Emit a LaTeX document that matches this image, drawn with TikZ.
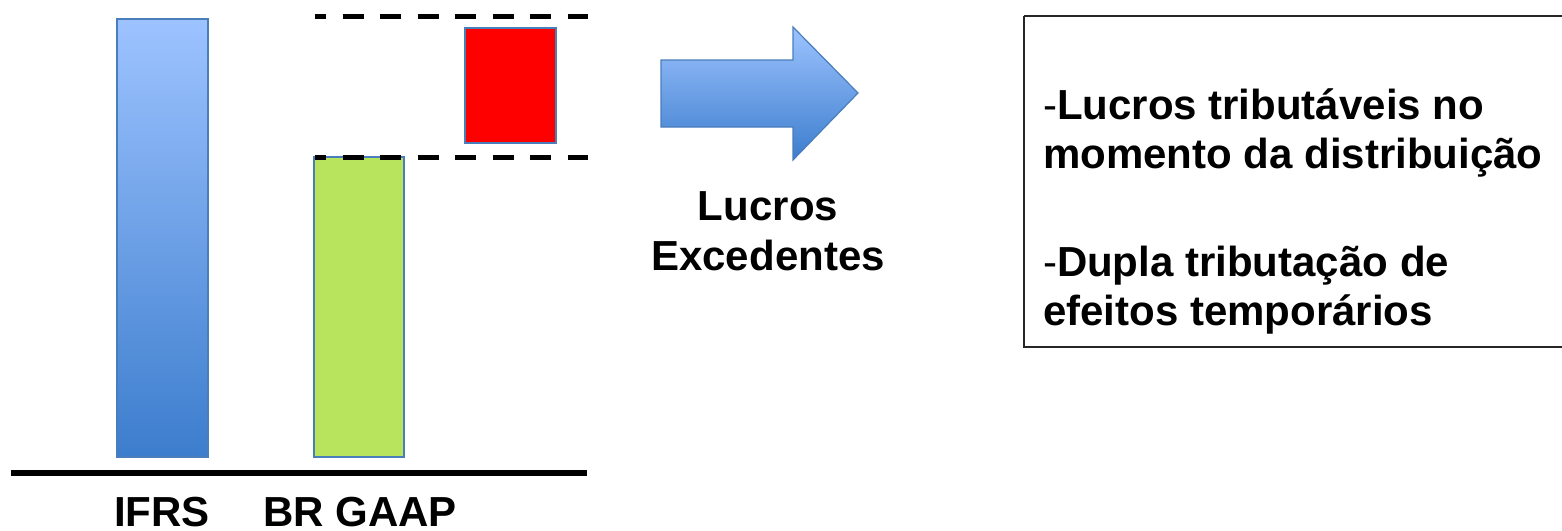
\documentclass[tikz,border=0pt]{standalone}
\usepackage{fontspec}
\setmainfont{Liberation Sans}
\definecolor{bluetop}{RGB}{157,195,255}
\definecolor{bluebot}{RGB}{60,125,205}
\definecolor{barborder}{RGB}{74,126,187}
\definecolor{greenfill}{RGB}{184,227,92}
\begin{document}
\begin{tikzpicture}[x=1pt,y=-1pt,
  bar/.style={draw=barborder, line width=2pt, inner sep=0pt, outer sep=0pt, anchor=north west},
  bluebar/.style={bar, top color=bluetop, bottom color=bluebot},
  dashline/.style={line width=5pt, dash pattern=on 21pt off 16.5pt, dash phase=10pt},
  lbl/.style={font=\fontsize{42}{48.5}\selectfont\bfseries, inner sep=0pt, outer sep=0pt}]
\useasboundingbox (0,0) rectangle (1562,530);
% bars
\node[bluebar, minimum width=91pt, minimum height=438pt] (ifrs) at (117,19) {};
\node[bar, fill=greenfill, minimum width=90pt, minimum height=300pt] (brgaap) at (314,157) {};
\node[bar, fill=red, minimum width=91pt, minimum height=115pt] (excess) at (465,28) {};
% dashed guides
\coordinate (d1a) at (315,16); \coordinate (d1b) at (588,16);
\coordinate (d2a) at (315,157); \coordinate (d2b) at (588,157);
\draw[dashline] (d1a) -- (d1b);
\draw[dashline] (d2a) -- (d2b);
% baseline
\coordinate (ba) at (11,473); \coordinate (bb) at (587,473);
\draw[line width=5.5pt] (ba) -- (bb);
% labels
\node[lbl, anchor=base] (lifrs) at (162,526) {IFRS};
\node[lbl, anchor=base] (lbr) at (360,526) {BR GAAP};
% arrow
\shade[top color=bluetop, bottom color=bluebot, draw=barborder, line width=1.2pt]
  (661,60) -- (793,60) -- (793,27) -- (858,93) -- (793,160) -- (793,127) -- (661,127) -- cycle;
\node[lbl, anchor=base, align=center, font=\fontsize{42}{50}\selectfont\bfseries] (lucros) at (768,270) {Lucros\\Excedentes};
% box
\draw[line width=1.5pt, draw=black!85] (1024,16) -- (1563,16) (1024,16) -- (1024,347) -- (1563,347);
\node[lbl, anchor=base west, align=left] (b1) at (1043,168) {{\mdseries-}Lucros tributáveis no\\momento da distribuição};
\node[lbl, anchor=base west, align=left] (b2) at (1043,325) {{\mdseries-}Dupla tributação de\\efeitos temporários};
\end{tikzpicture}
\end{document}
